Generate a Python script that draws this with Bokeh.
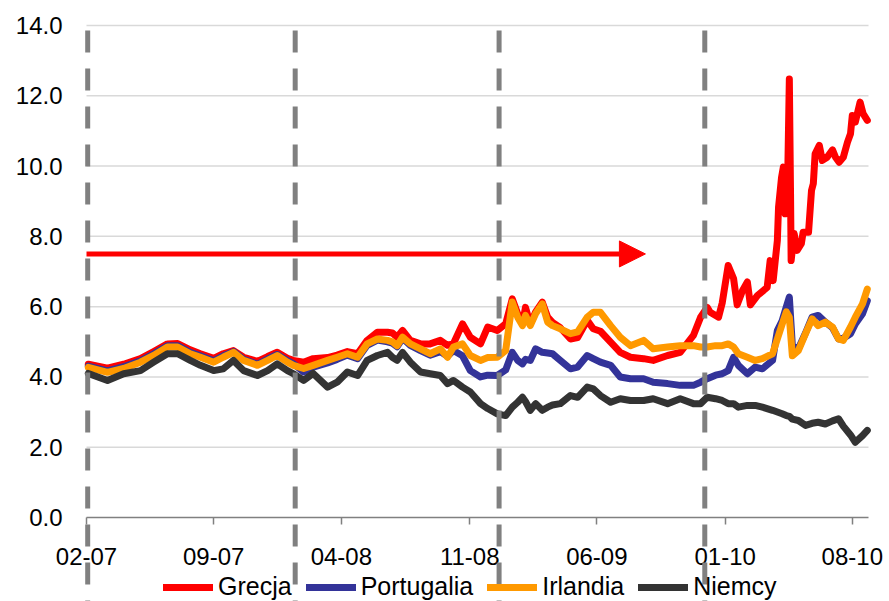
from datetime import datetime

from bokeh.embed import file_html
from bokeh.models import (Arrow, DatetimeTickFormatter, FixedTicker, Legend,
                          LegendItem, NormalHead, PrintfTickFormatter, Range1d)
from bokeh.plotting import figure
from bokeh.resources import INLINE

FONT = "Liberation Sans"
W, H = 889, 601

# ---- 10-year government bond yields (%) -------------------------------------
# shared observation dates, Feb 2007 - Nov 2009
base_dates = [
    "2007-02-04", "2007-03-08", "2007-04-04", "2007-05-02", "2007-05-24", "2007-06-16",
    "2007-07-03", "2007-07-24", "2007-08-10", "2007-09-01", "2007-09-17", "2007-10-04",
    "2007-10-21", "2007-11-13", "2007-11-30", "2007-12-16",
    "2008-01-02", "2008-01-12", "2008-01-29", "2008-02-14", "2008-03-09", "2008-03-25",
    "2008-04-11", "2008-04-28", "2008-05-14", "2008-05-31", "2008-06-17", "2008-06-25",
    "2008-07-03", "2008-07-12", "2008-07-25", "2008-08-11", "2008-08-27", "2008-09-13",
    "2008-09-25", "2008-10-05", "2008-10-20", "2008-11-02", "2008-11-19", "2008-12-01",
    "2008-12-17", "2008-12-31",
    "2009-01-11", "2009-01-20", "2009-01-28", "2009-02-02", "2009-02-10", "2009-02-19",
    "2009-03-02", "2009-03-11", "2009-03-19", "2009-04-01", "2009-04-18", "2009-04-30",
    "2009-05-16", "2009-05-26", "2009-06-07", "2009-06-24", "2009-07-10", "2009-07-27",
    "2009-08-18", "2009-09-03", "2009-09-27", "2009-10-18", "2009-11-09", "2009-11-21",
]

# Dec 2009 - Aug 2010 dates for Portugalia / Irlandia / Niemcy
tail_dates = [
    "2009-12-02", "2009-12-16", "2009-12-27", "2010-01-06", "2010-01-15", "2010-01-23",
    "2010-02-07", "2010-02-20", "2010-03-04", "2010-03-21", "2010-03-29", "2010-04-06",
    "2010-04-13", "2010-04-18", "2010-04-23", "2010-05-03", "2010-05-15", "2010-05-26",
    "2010-06-05", "2010-06-17", "2010-06-29", "2010-07-09", "2010-07-17", "2010-07-29",
    "2010-08-06", "2010-08-18", "2010-08-26",
]

# Dec 2009 - Aug 2010 dates for Grecja (denser around the spike)
grecja_tail_dates = [
    "2009-12-02", "2009-12-07", "2009-12-21", "2009-12-27", "2010-01-06", "2010-01-15",
    "2010-01-21", "2010-01-30", "2010-02-07", "2010-02-12", "2010-02-24", "2010-03-06",
    "2010-03-12", "2010-03-17", "2010-03-22", "2010-03-29", "2010-03-31", "2010-04-05",
    "2010-04-08", "2010-04-11", "2010-04-15", "2010-04-18", "2010-04-20", "2010-04-21",
    "2010-04-26", "2010-05-01", "2010-05-08", "2010-05-11", "2010-05-20", "2010-05-25",
    "2010-05-28", "2010-05-31", "2010-06-07", "2010-06-12", "2010-06-20", "2010-06-29",
    "2010-07-04", "2010-07-10", "2010-07-17", "2010-07-24", "2010-07-29", "2010-08-01",
    "2010-08-06", "2010-08-14", "2010-08-19", "2010-08-26",
]

grecja = [
    4.36, 4.25, 4.36, 4.52, 4.72, 4.94, 4.95, 4.77, 4.66, 4.53, 4.66, 4.75, 4.56, 4.44, 4.58, 4.70,
    4.53, 4.47, 4.42, 4.52, 4.55, 4.62, 4.72, 4.66, 5.04, 5.27, 5.27, 5.25, 5.13, 5.32, 5.04, 4.94,
    4.94, 5.04, 4.90, 4.95, 5.51, 5.13, 4.94, 5.42, 5.32, 5.51,
    6.22, 5.80, 5.50, 5.98, 5.50, 5.85, 6.13, 5.70, 5.55, 5.40, 5.08, 5.12, 5.61, 5.37, 5.30, 4.99,
    4.70, 4.56, 4.52, 4.47, 4.61, 4.70, 5.18, 5.70,
    5.98, 5.84, 5.70, 6.10, 7.17, 6.80, 6.05, 6.46, 6.70, 6.05, 6.32, 6.46, 6.55, 7.31, 6.74, 7.88,
    8.83, 9.68, 9.97, 8.64, 9.40, 12.48, 9.22, 7.31, 8.08, 7.60, 7.79, 8.12, 8.12, 9.31, 9.50, 10.35,
    10.59, 10.16, 10.25, 10.46, 10.25, 10.11, 10.25, 10.68, 10.92, 11.44, 11.25, 11.82, 11.49, 11.30,
]

portugalia = [
    4.31, 4.17, 4.29, 4.46, 4.66, 4.89, 4.89, 4.70, 4.60, 4.46, 4.60, 4.72, 4.50, 4.36, 4.51, 4.64,
    4.46, 4.38, 4.14, 4.28, 4.40, 4.50, 4.62, 4.52, 4.90, 5.05, 5.00, 4.96, 4.86, 5.10, 4.90, 4.75,
    4.62, 4.72, 4.59, 4.75, 4.60, 4.18, 4.00, 4.05, 4.04, 4.20,
    4.70, 4.47, 4.37, 4.50, 4.47, 4.80, 4.70, 4.68, 4.66, 4.47, 4.23, 4.28, 4.61, 4.52, 4.42, 4.33,
    4.00, 3.95, 3.95, 3.85, 3.81, 3.76, 3.76, 3.85,
    3.95, 4.05, 4.09, 4.18, 4.56, 4.33, 4.09, 4.28, 4.23, 4.47, 5.32, 5.60, 6.00, 6.27, 4.90, 4.80,
    5.25, 5.70, 5.75, 5.56, 5.40, 5.08, 5.10, 5.23, 5.51, 5.80, 6.17,
]

irlandia = [
    4.27, 4.13, 4.24, 4.42, 4.61, 4.85, 4.85, 4.66, 4.56, 4.42, 4.56, 4.70, 4.47, 4.33, 4.47, 4.61,
    4.42, 4.33, 4.24, 4.33, 4.47, 4.56, 4.66, 4.56, 4.94, 5.08, 5.04, 5.00, 4.89, 5.13, 4.94, 4.80,
    4.66, 4.80, 4.56, 4.85, 4.94, 4.61, 4.47, 4.55, 4.56, 4.75,
    6.13, 5.70, 5.46, 5.75, 5.46, 5.80, 6.08, 5.56, 5.46, 5.37, 5.23, 5.28, 5.70, 5.84, 5.84, 5.46,
    5.13, 4.89, 5.04, 4.80, 4.85, 4.89, 4.89, 4.85,
    4.85, 4.89, 4.89, 4.94, 4.85, 4.66, 4.56, 4.47, 4.52, 4.66, 5.08, 5.50, 5.85, 5.70, 4.60, 4.75,
    5.23, 5.65, 5.46, 5.56, 5.42, 5.08, 5.04, 5.42, 5.70, 6.08, 6.50,
]

niemcy = [
    4.10, 3.90, 4.09, 4.18, 4.42, 4.66, 4.66, 4.47, 4.33, 4.18, 4.23, 4.47, 4.18, 4.04, 4.18, 4.37,
    4.18, 4.09, 3.90, 4.10, 3.71, 3.85, 4.14, 4.04, 4.47, 4.61, 4.70, 4.56, 4.47, 4.70, 4.42, 4.14,
    4.09, 4.04, 3.81, 3.90, 3.71, 3.57, 3.24, 3.10, 2.95, 2.90,
    3.14, 3.28, 3.42, 3.30, 3.05, 3.24, 3.05, 3.14, 3.20, 3.24, 3.47, 3.42, 3.71, 3.66, 3.47, 3.28,
    3.38, 3.33, 3.33, 3.38, 3.24, 3.38, 3.24, 3.24,
    3.42, 3.38, 3.33, 3.24, 3.24, 3.14, 3.19, 3.19, 3.14, 3.05, 3.00, 2.95, 2.90, 2.88, 2.80, 2.76,
    2.62, 2.68, 2.71, 2.66, 2.75, 2.81, 2.60, 2.35, 2.14, 2.33, 2.48,
]

series_names = ["Grecja", "Portugalia", "Irlandia", "Niemcy"]
series_colors = ["#ff0000", "#333399", "#ff9900", "#333333"]

# x-axis tick labels (month-year)
tick_labels = ["02-07", "09-07", "04-08", "11-08", "06-09", "01-10", "08-10"]
y_ticks = [0, 2, 4, 6, 8, 10, 12, 14]

# dates marked with vertical dashed lines
marker_dates = ["2007-02-03", "2008-01-15", "2008-12-20", "2009-11-28"]

# chart extent (data units) and where it sits on the page (pixels)
x_start, x_end = datetime(2007, 2, 1), datetime(2010, 8, 28)
y_lo, y_hi = 0.0, 14.0
px_left, px_right = 86, 868      # plot area, horizontal
px_top, px_bottom = 25, 517      # plot area, vertical (14.0 and 0.0)


def to_dt(s):
    return datetime.strptime(s, "%Y-%m-%d")


def to_ms(dt):
    return (dt - datetime(1970, 1, 1)).total_seconds() * 1000.0


common_dates = [to_dt(d) for d in base_dates + tail_dates]
grecja_dates = [to_dt(d) for d in base_dates + grecja_tail_dates]
tick_ms = [to_ms(datetime(2000 + int(t[3:]), int(t[:2]), 1)) for t in tick_labels]

# the frame covers the whole page so that the markers can run past the axis
span_x = (x_end - x_start) / (px_right - px_left)
span_y = (y_hi - y_lo) / (px_bottom - px_top)
xr = Range1d(x_start - span_x * px_left, x_end + span_x * (W - px_right))
yr = Range1d(y_lo - span_y * (H - px_bottom), y_hi + span_y * px_top)

p = figure(
    width=W, height=H,
    x_axis_type="datetime",
    x_range=xr, y_range=yr,
    output_backend="svg",
    toolbar_location=None,
    min_border=0,
    background_fill_color="white",
    border_fill_color="white",
)
p.outline_line_color = None
p.xgrid.visible = False
p.ygrid.visible = False

# horizontal gridlines, limited to the plot area
grid_levels = y_ticks[1:]
g = p.segment(x0=[x_start] * len(grid_levels), y0=grid_levels,
              x1=[x_end] * len(grid_levels), y1=grid_levels,
              line_color="#d9d9d9", line_width=1.5)
g.level = "underlay"

# y axis: labels only, anchored at the left edge of the plot area
yax = p.yaxis[0]
yax.fixed_location = to_ms(x_start)
yax.bounds = (y_lo, y_hi)
yax.ticker = FixedTicker(ticks=y_ticks)
yax.formatter = PrintfTickFormatter(format="%.1f")
yax.axis_line_color = None
yax.major_tick_line_color = None
yax.minor_tick_line_color = None
yax.major_label_standoff = 18
yax.major_label_text_font = FONT
yax.major_label_text_font_size = "24px"
yax.major_label_text_color = "black"

# x axis sits on the zero line
xax = p.xaxis[0]
xax.fixed_location = 0
xax.bounds = (x_start, x_end)
xax.ticker = FixedTicker(ticks=tick_ms)
fmt = "%m-%y"
xax.formatter = DatetimeTickFormatter(
    years=fmt, months=fmt, days=fmt, hours=fmt, hourmin=fmt,
    minutes=fmt, minsec=fmt, seconds=fmt, milliseconds=fmt, microseconds=fmt,
)
xax.axis_line_color = "#808080"
xax.axis_line_width = 1.5
xax.major_tick_line_color = "#808080"
xax.major_tick_line_width = 1.5
xax.major_tick_in = 0
xax.major_tick_out = 7
xax.minor_tick_line_color = None
xax.major_label_standoff = 23
xax.major_label_text_font = FONT
xax.major_label_text_font_size = "24px"
xax.major_label_text_color = "black"

# series
renderers = []
series_data = [
    (grecja_dates, grecja),
    (common_dates, portugalia),
    (common_dates, irlandia),
    (common_dates, niemcy),
]
for (xs, ys), color in zip(series_data, series_colors):
    r = p.line(xs, ys, line_color=color, line_width=7,
               line_join="round", line_cap="round")
    renderers.append(r)

# red arrow at 7.5 %
p.add_layout(Arrow(
    x_start=x_start, y_start=7.5,
    x_end=datetime(2009, 8, 21), y_end=7.5,
    line_color="#ff0000", line_width=5,
    end=NormalHead(size=26, fill_color="#ff0000", line_color="#ff0000", line_width=1),
))

legend = Legend(
    items=[LegendItem(label=n, renderers=[r]) for n, r in zip(series_names, renderers)],
    orientation="horizontal",
    location=(163, 0),
    glyph_width=50, glyph_height=20,
    label_standoff=5, spacing=14,
    padding=0, margin=0,
    border_line_alpha=0, background_fill_alpha=0,
    label_text_font=FONT, label_text_font_size="25px", label_text_color="black",
)
p.add_layout(legend)

# vertical dashed markers, drawn over everything
md = [to_dt(d) for d in marker_dates]
seg = p.segment(x0=md, y0=[13.86] * len(md), x1=md, y1=[-3.0] * len(md),
                line_color="#808080", line_width=5, line_dash="22 16")
seg.level = "overlay"

open("out.html", "w").write(file_html(p, INLINE))
